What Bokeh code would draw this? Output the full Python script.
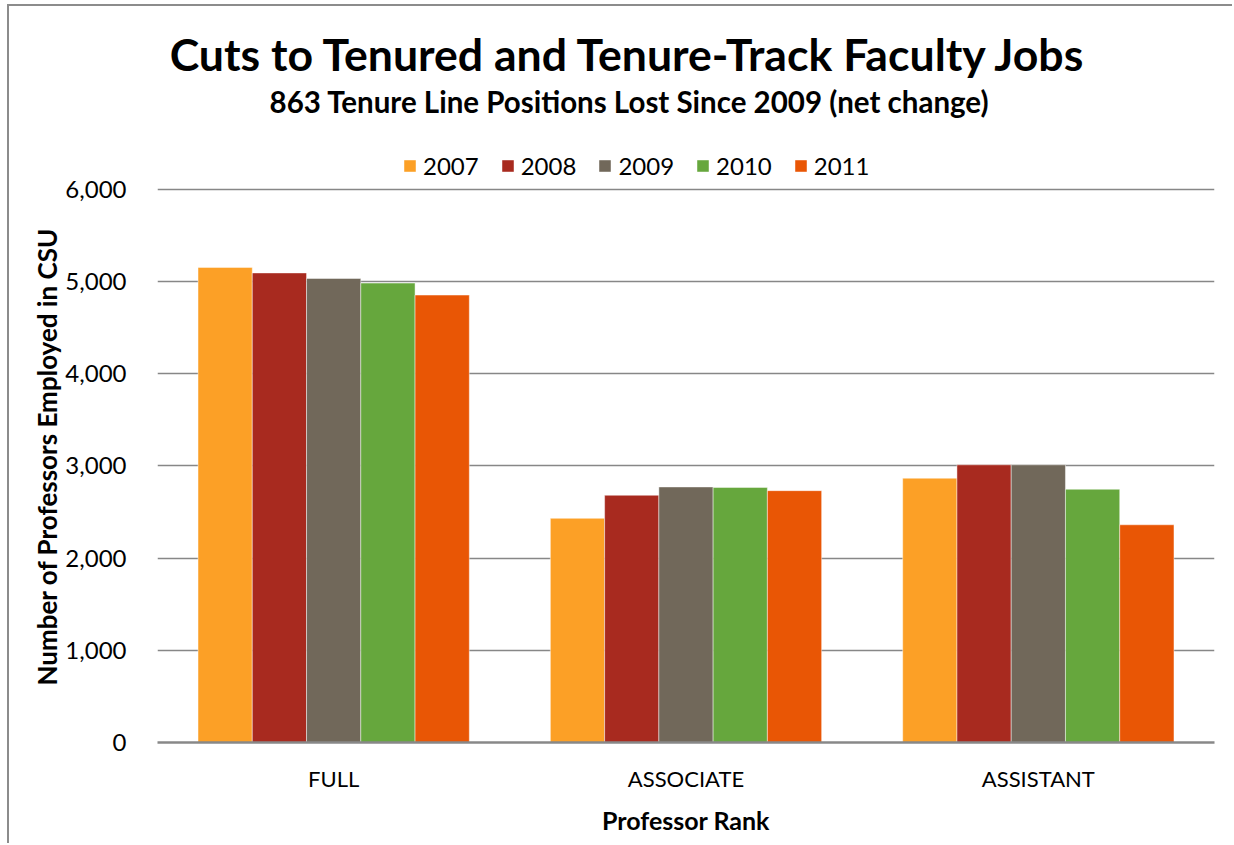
from bokeh.plotting import figure
from bokeh.models import (ColumnDataSource, FactorRange, FixedTicker, NumeralTickFormatter,
                          Label, Legend, LegendItem, Title)
from bokeh.transform import dodge
from bokeh.embed import file_html
from bokeh.resources import INLINE

# ---------------- data ----------------
ranks = ["FULL", "ASSOCIATE", "ASSISTANT"]
years = ["2007", "2008", "2009", "2010", "2011"]
y2007 = [5150, 2430, 2865]
y2008 = [5090, 2680, 3010]
y2009 = [5030, 2770, 3010]
y2010 = [4980, 2765, 2745]
y2011 = [4850, 2730, 2360]
colors = ["#FCA026", "#A82A1F", "#71685A", "#66A73D", "#E95605"]
y_ticks = [0, 1000, 2000, 3000, 4000, 5000, 6000]

title_text = "Cuts to Tenured and Tenure-Track Faculty Jobs"
subtitle_text = "863 Tenure Line Positions Lost Since 2009 (net change)"
y_title = "Number of Professors Employed in CSU"
x_title = "Professor Rank"

FONT = "Lato"

series = [y2007, y2008, y2009, y2010, y2011]
data = {"rank": ranks}
for yr, vals in zip(years, series):
    data["y" + yr] = vals
source = ColumnDataSource(data)

# frame spans from canvas top to the zero line; the y range is extended so the
# 6,000 gridline lands below the titles and legend
frame_h = 736.0
px_per_6000 = 553.5
y_end = max(y_ticks) * frame_h / px_per_6000

p = figure(width=1225, height=839, x_range=FactorRange(factors=ranks, range_padding=0),
           y_range=(0, y_end), output_backend="svg", toolbar_location=None,
           min_border_left=148, min_border_right=20, min_border_top=0, min_border_bottom=103)
p.title.visible = False
p.outline_line_color = None
p.background_fill_color = "white"
p.border_fill_color = "white"

bw = 0.154
offsets = [-2 * bw, -bw, 0, bw, 2 * bw]
renderers = []
for yr, col, off in zip(years, colors, offsets):
    r = p.vbar(x=dodge("rank", off, range=p.x_range), top="y" + yr, width=bw, source=source,
               fill_color=col, line_color="white", line_alpha=0.45, line_width=1)
    renderers.append(r)

# axes
p.yaxis.ticker = FixedTicker(ticks=y_ticks)
p.yaxis.formatter = NumeralTickFormatter(format="0,0")
p.yaxis.axis_line_color = None
p.yaxis.major_tick_line_color = None
p.yaxis.minor_tick_line_color = None
p.yaxis.major_label_standoff = 25
p.yaxis.major_label_text_font = FONT
p.yaxis.major_label_text_font_size = "24px"
p.yaxis.major_label_text_color = "black"

p.xaxis.axis_line_color = "#888888"
p.xaxis.axis_line_width = 2.3
p.xaxis.major_tick_line_color = None
p.xaxis.minor_tick_line_color = None
p.xaxis.major_label_standoff = 16
p.xaxis.major_label_text_font = FONT
p.xaxis.major_label_text_font_size = "22px"
p.xaxis.major_label_text_color = "black"
p.xaxis.axis_label = x_title
p.xaxis.axis_label_text_font = FONT
p.xaxis.axis_label_text_font_style = "bold"
p.xaxis.axis_label_text_font_size = "25px"
p.xaxis.axis_label_text_color = "black"
p.xaxis.axis_label_standoff = 10

p.xgrid.grid_line_color = None
p.ygrid.ticker = FixedTicker(ticks=y_ticks)
p.ygrid.grid_line_color = "#878787"
p.ygrid.grid_line_width = 1.6

# y axis title, placed along the 0..6,000 span
p.add_layout(Title(text=y_title, align="left", offset=57, standoff=0, text_font=FONT,
                   text_font_style="bold", text_font_size="26px", text_color="black"), "left")

# legend
items = [LegendItem(label=yr, renderers=[r]) for yr, r in zip(years, renderers)]
legend = Legend(items=items, orientation="horizontal", location=(245, 562),
                glyph_width=15, glyph_height=15, label_standoff=6, spacing=21,
                padding=0, margin=0, border_line_color=None, background_fill_alpha=0,
                label_text_font=FONT, label_text_font_size="24px", label_text_color="black",
                label_height=15)
p.add_layout(legend, "center")

# titles
p.add_layout(Label(x=471.5, y=688.8, x_units="screen", y_units="screen", text=title_text,
                   text_align="center", text_baseline="middle", text_font=FONT,
                   text_font_style="bold", text_font_size="44.6px", text_color="black"))
p.add_layout(Label(x=472, y=640.8, x_units="screen", y_units="screen", text=subtitle_text,
                   text_align="center", text_baseline="middle", text_font=FONT,
                   text_font_style="bold", text_font_size="29.5px", text_color="black"))

p.styles = {"margin-top": "4px", "margin-left": "7px",
            "border-top": "2px solid #8c8c8c", "border-left": "2px solid #8c8c8c"}

open("out.html", "w").write(file_html(p, INLINE))
